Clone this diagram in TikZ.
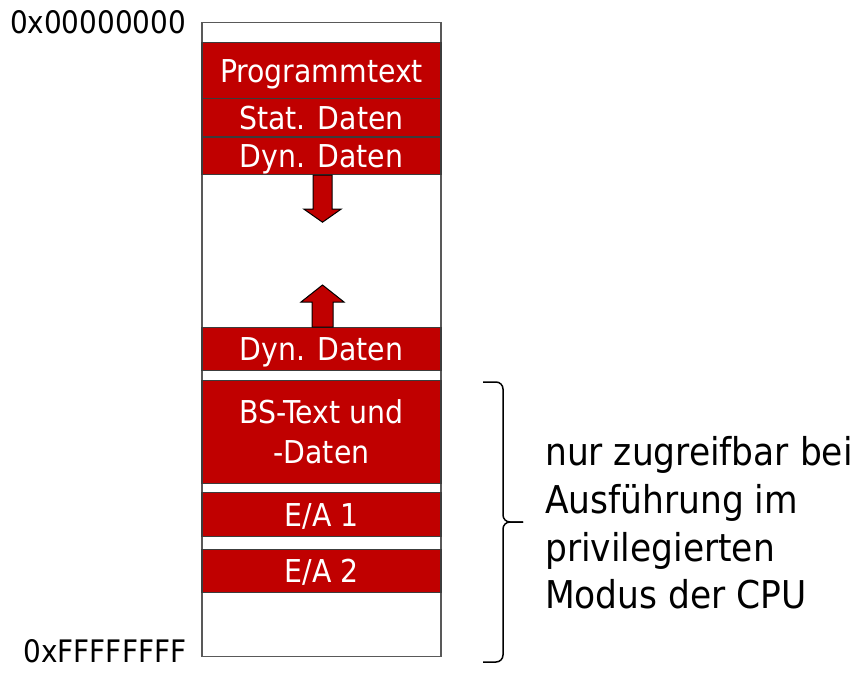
\documentclass[tikz,border=0pt]{standalone}
\usepackage{fontspec}
\setmainfont{DejaVu Sans Condensed}
\usetikzlibrary{positioning,calc}
\definecolor{memred}{HTML}{C00000}
\definecolor{memline}{HTML}{3C3C3C}
\tikzset{
    every picture/.style={x=1pt,y=-1pt,line join=miter},
    memcol/.style={draw=memline!85,line width=1.2pt,minimum width=239pt,inner sep=0pt,anchor=north},
    seg/.style={memcol,draw=memline,fill=memred,text=white,align=center,
        text height=23pt,text depth=0pt,font=\fontsize{31.5}{40}\selectfont},
    addr/.style={font=\fontsize{31}{36}\selectfont,inner sep=0pt},
    bigarrow/.style={draw=black,fill=memred,line width=1pt},
    brace/.style={draw=black,line width=1.5pt,rounded corners=7pt}
}
\begin{document}
\begin{tikzpicture}
    \useasboundingbox (0,0) rectangle (868,690);
    % address space
    \node[memcol,minimum height=634pt] (mem) at (321.5,22) {};
    \node[seg,minimum height=56pt] (prog)  at (321.5,42)  {Programmtext};
    \node[seg,minimum height=38pt] (stat)  at (321.5,98)  {Stat. Daten};
    \node[seg,minimum height=37pt,yshift=-1pt] (dynA)  at (321.5,136) {Dyn. Daten};
    \node[seg,minimum height=43pt] (dynB)  at (321.5,327) {Dyn. Daten};
    \node[seg,minimum height=103pt,text height=63pt] (bs) at (321.5,380) {BS-Text und\\-Daten};
    \node[seg,minimum height=44pt] (eaA)   at (321.5,492) {E/A 1};
    \node[seg,minimum height=43pt] (eaB)   at (321.5,549) {E/A 2};
    \node[addr,anchor=east] (lo) [left=15pt of mem.north west] {0x00000000};
    \node[addr,anchor=east,yshift=6pt] (hi) [left=15pt of mem.south west] {0xFFFFFFFF};
    % growing heap / stack
    \draw[bigarrow] ($(dynA.south)+(-8.5,0)$) -- ++(0,34) -- ++(-9,0) -- ++(18.5,13)
        -- ++(18.5,-13) -- ++(-9,0) -- ++(0,-34) -- cycle;
    \draw[bigarrow] ($(dynB.north)+(-9.5,0)$) -- ++(0,-25) -- ++(-11,0) -- ++(21.5,-17)
        -- ++(21.5,17) -- ++(-11,0) -- ++(0,25) -- cycle;
    % privileged part
    \coordinate (bt) at (483,382);
    \coordinate (bb) at (483,662);
    \coordinate (tip) at (523,522);
    \draw[brace] (bt) -| (503,522) -- (tip);
    \draw[brace] (bb) -| (503,522) -- (tip);
    \node[anchor=west,align=left,inner sep=0pt,font=\fontsize{38.3}{47.7}\selectfont]
        (priv) at (545,523) {nur zugreifbar bei\\Ausführung im\\privilegierten\\Modus der CPU};
\end{tikzpicture}
\end{document}
